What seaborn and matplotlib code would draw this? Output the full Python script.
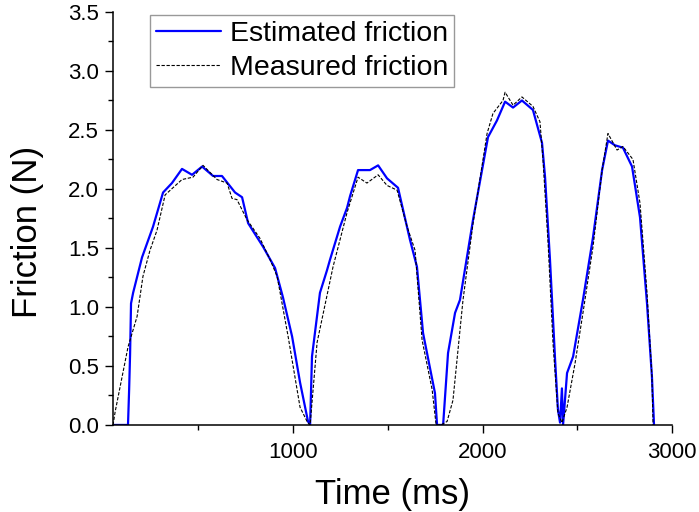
import pandas as pd
import numpy as np
import matplotlib
matplotlib.use("Agg")
import matplotlib.pyplot as plt
from matplotlib.ticker import MultipleLocator
import seaborn as sns

# values
est_time = [50, 129, 135, 140, 145, 156, 203, 261, 314, 361, 414, 467, 520, 578, 625,
            694, 731, 763, 842, 905, 947, 995, 1037, 1079, 1090, 1100, 1142, 1179, 1195,
            1248, 1285, 1301, 1343, 1406, 1449, 1496, 1554, 1617, 1654, 1686, 1749, 1760,
            1792, 1818, 1855, 1881, 1950, 2029, 2076, 2119, 2161, 2208, 2266, 2314, 2330,
            2356, 2383, 2398, 2409, 2419, 2425, 2446, 2478, 2530, 2583, 2631, 2662, 2699,
            2741, 2789, 2831, 2868, 2894, 2905]
est_friction = [0.0, 0.0, 0.3, 0.6, 1.03, 1.12, 1.42, 1.68, 1.97, 2.05, 2.17, 2.12, 2.19, 2.11, 2.11,
                1.97, 1.93, 1.71, 1.51, 1.33, 1.08, 0.75, 0.36, 0.03, 0.0, 0.58, 1.12, 1.31, 1.40,
                1.68, 1.84, 1.94, 2.16, 2.16, 2.20, 2.09, 2.01, 1.57, 1.34, 0.78, 0.27, 0.0,
                0.0, 0.61, 0.95, 1.06, 1.74, 2.44, 2.58, 2.74, 2.69, 2.75, 2.67, 2.39, 2.10,
                1.40, 0.55, 0.13, 0.02, 0.31, 0.0, 0.44, 0.58, 1.06, 1.59, 2.16, 2.41, 2.37,
                2.35, 2.19, 1.76, 1.03, 0.41, 0.0]

meas_time = [50, 61, 129, 177, 208, 245, 282, 325, 414, 472, 525, 599, 652, 678, 704,
             757, 826, 879, 916, 974, 1037, 1074, 1090, 1127, 1211, 1285, 1343, 1390, 1449,
             1496, 1549, 1602, 1644, 1681, 1734, 1755, 1781, 1813, 1844, 1897, 1950, 2024,
             2055, 2108, 2119, 2161, 2208, 2266, 2303, 2319, 2346, 2372, 2398, 2419, 2446,
             2488, 2530, 2583, 2631, 2662, 2710, 2741, 2794, 2831, 2868, 2894, 2900]
meas_friction = [0.0, 0.11, 0.66, 0.92, 1.26, 1.48, 1.65, 1.95, 2.08, 2.10, 2.20, 2.08, 2.05, 1.92, 1.91,
                 1.74, 1.58, 1.40, 1.26, 0.75, 0.15, 0.03, 0.0, 0.70, 1.34, 1.80, 2.10, 2.05, 2.12,
                 2.03, 1.99, 1.68, 1.48, 0.72, 0.30, 0.0, 0.0, 0.03, 0.21, 1.06, 1.71, 2.47,
                 2.64, 2.75, 2.82, 2.71, 2.78, 2.70, 2.57, 2.25, 1.54, 0.69, 0.10, 0.02, 0.15,
                 0.52, 0.95, 1.51, 2.16, 2.47, 2.33, 2.36, 2.25, 1.88, 1.12, 0.41, 0.0]

est_df = pd.DataFrame({"Time": est_time, "Friction": est_friction})
meas_df = pd.DataFrame({"Time": meas_time, "Friction": meas_friction})

sns.set_style("ticks")
plt.rcParams["font.family"] = ["Liberation Sans", "DejaVu Sans"]
plt.rcParams["text.color"] = "black"
plt.rcParams["axes.labelcolor"] = "black"
plt.rcParams["xtick.color"] = "black"
plt.rcParams["ytick.color"] = "black"

fig = plt.figure(figsize=(6.99, 5.12), dpi=100)
ax = fig.add_axes([0.1617, 0.170, 0.7997, 0.8066])

sns.lineplot(data=est_df, x="Time", y="Friction", ax=ax, color="#0000ff", lw=1.6,
             estimator=None, sort=False, label="Estimated friction")
sns.lineplot(data=meas_df, x="Time", y="Friction", ax=ax, color="black", lw=0.8,
             linestyle=(0, (3, 1.5)), estimator=None, sort=False, label="Measured friction")

ax.set_xlim(50, 3000)
ax.set_ylim(0, 3.5)
ax.xaxis.set_major_locator(MultipleLocator(1000))
ax.xaxis.set_minor_locator(MultipleLocator(500))
ax.yaxis.set_major_locator(MultipleLocator(0.5))
ax.yaxis.set_minor_locator(MultipleLocator(0.25))
ax.yaxis.set_major_formatter(matplotlib.ticker.FormatStrFormatter("%.1f"))

ax.tick_params(which="major", length=6, width=1, labelsize=16, pad=4, color="black",
               labelcolor="black")
ax.tick_params(axis="x", which="major", pad=6)
ax.tick_params(which="minor", length=3.5, width=1, color="black")
for s in ["left", "bottom"]:
    ax.spines[s].set_linewidth(1.1)
    ax.spines[s].set_color("black")
sns.despine(ax=ax)

ax.set_xlabel("Time (ms)", fontsize=25, labelpad=11)
ax.set_ylabel("Friction (N)", fontsize=25)
ax.yaxis.set_label_coords(-0.123, 0.467)

leg = ax.legend(loc="upper left", bbox_to_anchor=(0.066, 0.993), borderaxespad=0,
                fontsize=20.5, frameon=True, fancybox=False, handlelength=2.3,
                handletextpad=0.3, borderpad=0.2, labelspacing=0.3)
leg.get_frame().set_edgecolor("#808080")
leg.get_frame().set_linewidth(1.0)

fig.savefig("out.png", dpi=100)
